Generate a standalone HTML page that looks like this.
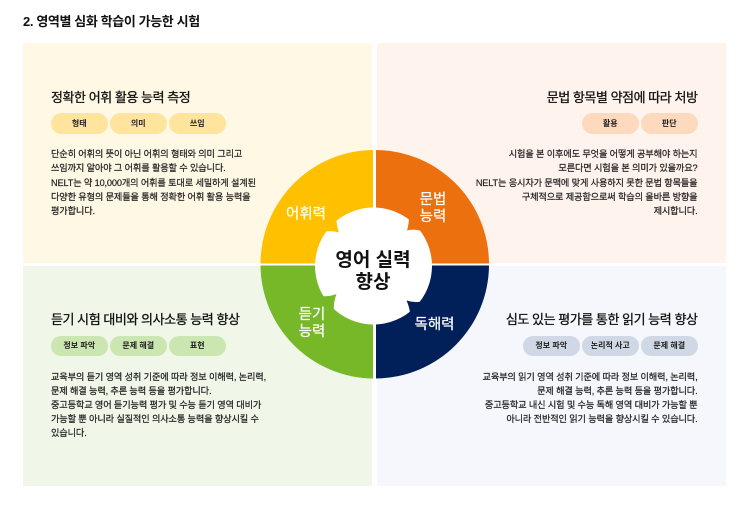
<!DOCTYPE html>
<html lang="ko"><head><meta charset="utf-8"><style>
html,body{margin:0;padding:0;background:#fff}
#p{position:relative;width:743px;height:508px;overflow:hidden;background:#fff;font-family:"Liberation Sans","Noto Sans CJK KR",sans-serif;color:#1a1a1a}
.b{position:absolute}
.t{position:absolute;white-space:nowrap}
.h{font-size:13px;font-weight:400;line-height:20px;height:20px;color:#111;letter-spacing:-.45px;-webkit-text-stroke:.3px #111}
.l{font-size:9.2px;line-height:14px;height:14px;font-weight:400;color:#222;letter-spacing:-.15px;-webkit-text-stroke:.2px #222}
.r{right:45.5px;text-align:right}
.c{position:absolute;width:56.5px;border-radius:11px;text-align:center;font-size:8px;font-weight:700;color:#222;white-space:nowrap}
.y{background:#ffe49e;top:113px;height:21px;line-height:21px}
.o{background:#fdd9bd;top:113px;height:21px;line-height:21px}
.g{background:#cbe6b0;top:336px;height:20px;line-height:20px}
.n{background:#d0d8e6;top:336px;height:20px;line-height:20px}
svg{position:absolute;left:0;top:0}
svg text{font-family:"Liberation Sans","Noto Sans CJK KR",sans-serif;text-anchor:middle}
</style></head><body><div id="p">
<div class="t" style="left:23px;top:12px;font-size:13px;font-weight:700;line-height:20px;color:#111;letter-spacing:-.38px">2. 영역별 심화 학습이 가능한 시험</div>
<div class="b" style="left:23px;top:43px;width:349px;height:220px;background:#fff8e5"></div>
<div class="b" style="left:377px;top:43px;width:349px;height:220px;background:#fff3ee"></div>
<div class="b" style="left:23px;top:266px;width:349px;height:220px;background:#f0f6e8"></div>
<div class="b" style="left:377px;top:266px;width:349px;height:220px;background:#f5f7fd"></div>

<div class="t h" style="left:51px;top:88px">정확한 어휘 활용 능력 측정</div>
<div class="c y" style="left:51px">형태</div><div class="c y" style="left:110px">의미</div><div class="c y" style="left:169px">쓰임</div>
<div class="t l" style="left:51px;top:147px">단순히 어휘의 뜻이 아닌 어휘의 형태와 의미 그리고</div>
<div class="t l" style="left:51px;top:161px">쓰임까지 알아야 그 어휘를 활용할 수 있습니다.</div>
<div class="t l" style="left:51px;top:176px">NELT는 약 10,000개의 어휘를 토대로 세밀하게 설계된</div>
<div class="t l" style="left:51px;top:190px">다양한 유형의 문제들을 통해 정확한 어휘 활용 능력을</div>
<div class="t l" style="left:51px;top:204px">평가합니다.</div>

<div class="t h r" style="top:88px">문법 항목별 약점에 따라 처방</div>
<div class="c o" style="left:582px">활용</div><div class="c o" style="left:641px">판단</div>
<div class="t l r" style="top:147px">시험을 본 이후에도 무엇을 어떻게 공부해야 하는지</div>
<div class="t l r" style="top:161px">모른다면 시험을 본 의미가 있을까요?</div>
<div class="t l r" style="top:176px">NELT는 응시자가 문맥에 맞게 사용하지 못한 문법 항목들을</div>
<div class="t l r" style="top:190px">구체적으로 제공함으로써 학습의 올바른 방향을</div>
<div class="t l r" style="top:204px">제시합니다.</div>

<div class="t h" style="left:51px;top:310px">듣기 시험 대비와 의사소통 능력 향상</div>
<div class="c g" style="left:51px">정보 파악</div><div class="c g" style="left:110px">문제 해결</div><div class="c g" style="left:169px">표현</div>
<div class="t l" style="left:51px;top:370px">교육부의 듣기 영역 성취 기준에 따라 정보 이해력, 논리력,</div>
<div class="t l" style="left:51px;top:384px">문제 해결 능력, 추론 능력 등을 평가합니다.</div>
<div class="t l" style="left:51px;top:398px">중고등학교 영어 듣기능력 평가 및 수능 듣기 영역 대비가</div>
<div class="t l" style="left:51px;top:412px">가능할 뿐 아니라 실질적인 의사소통 능력을 향상시킬 수</div>
<div class="t l" style="left:51px;top:426px">있습니다.</div>

<div class="t h r" style="top:310px">심도 있는 평가를 통한 읽기 능력 향상</div>
<div class="c n" style="left:523px">정보 파악</div><div class="c n" style="left:582px">논리적 사고</div><div class="c n" style="left:641px">문제 해결</div>
<div class="t l r" style="top:370px">교육부의 읽기 영역 성취 기준에 따라 정보 이해력, 논리력,</div>
<div class="t l r" style="top:384px">문제 해결 능력, 추론 능력 등을 평가합니다.</div>
<div class="t l r" style="top:398px">중고등학교 내신 시험 및 수능 독해 영역 대비가 가능할 뿐</div>
<div class="t l r" style="top:412px">아니라 전반적인 읽기 능력을 향상시킬 수 있습니다.</div>

<svg width="743" height="508" viewBox="0 0 743 508">
<path d="M373 263.5V150A114 114 0 0 0 260.5 263.5Z" fill="#ffc000"/>
<path d="M376 263.5V150A114 114 0 0 1 489 263.5Z" fill="#ed700f"/>
<path d="M373 265.5V378.5A114 114 0 0 1 260.5 265.5Z" fill="#77b828"/>
<path d="M376 265.5V378.5A114 114 0 0 0 489 265.5Z" fill="#012059"/>
<rect x="373" y="150" width="3" height="229" fill="#fff"/>
<rect x="260" y="263.5" width="230" height="2" fill="#fff"/>
<circle cx="373.5" cy="266" r="58.5" fill="#fff"/>
<path d="M336.5 216Q336 225 339 232.5Q331 230 323 232L328 222Z" fill="#ffc000"/>
<path d="M409 216Q409 224 407 230.5Q414 228.5 422 231L417 221Z" fill="#ed700f"/>
<path d="M320 296Q329 297 336.5 294Q333 303 334 312L324 305Z" fill="#77b828"/>
<path d="M410 312.5Q409 306 406.5 300.5Q414 303 422 301.5L417 309Z" fill="#012059"/>
<text x="306" y="218.5" font-size="14.5" fill="#fff" stroke="#fff" stroke-width=".2">어휘력</text>
<text x="433" y="204" font-size="14.5" fill="#fff" stroke="#fff" stroke-width=".2">문법</text>
<text x="433" y="221" font-size="14.5" fill="#fff" stroke="#fff" stroke-width=".2">능력</text>
<text x="312" y="319" font-size="14.5" fill="#fff" stroke="#fff" stroke-width=".2">듣기</text>
<text x="312" y="336" font-size="14.5" fill="#fff" stroke="#fff" stroke-width=".2">능력</text>
<text x="434.5" y="329" font-size="14.5" fill="#fff" stroke="#fff" stroke-width=".2">독해력</text>
<text x="373" y="266" font-size="19" font-weight="700" fill="#111">영어 실력</text>
<text x="373" y="288" font-size="19" font-weight="700" fill="#111">향상</text>
</svg>
</div></body></html>
